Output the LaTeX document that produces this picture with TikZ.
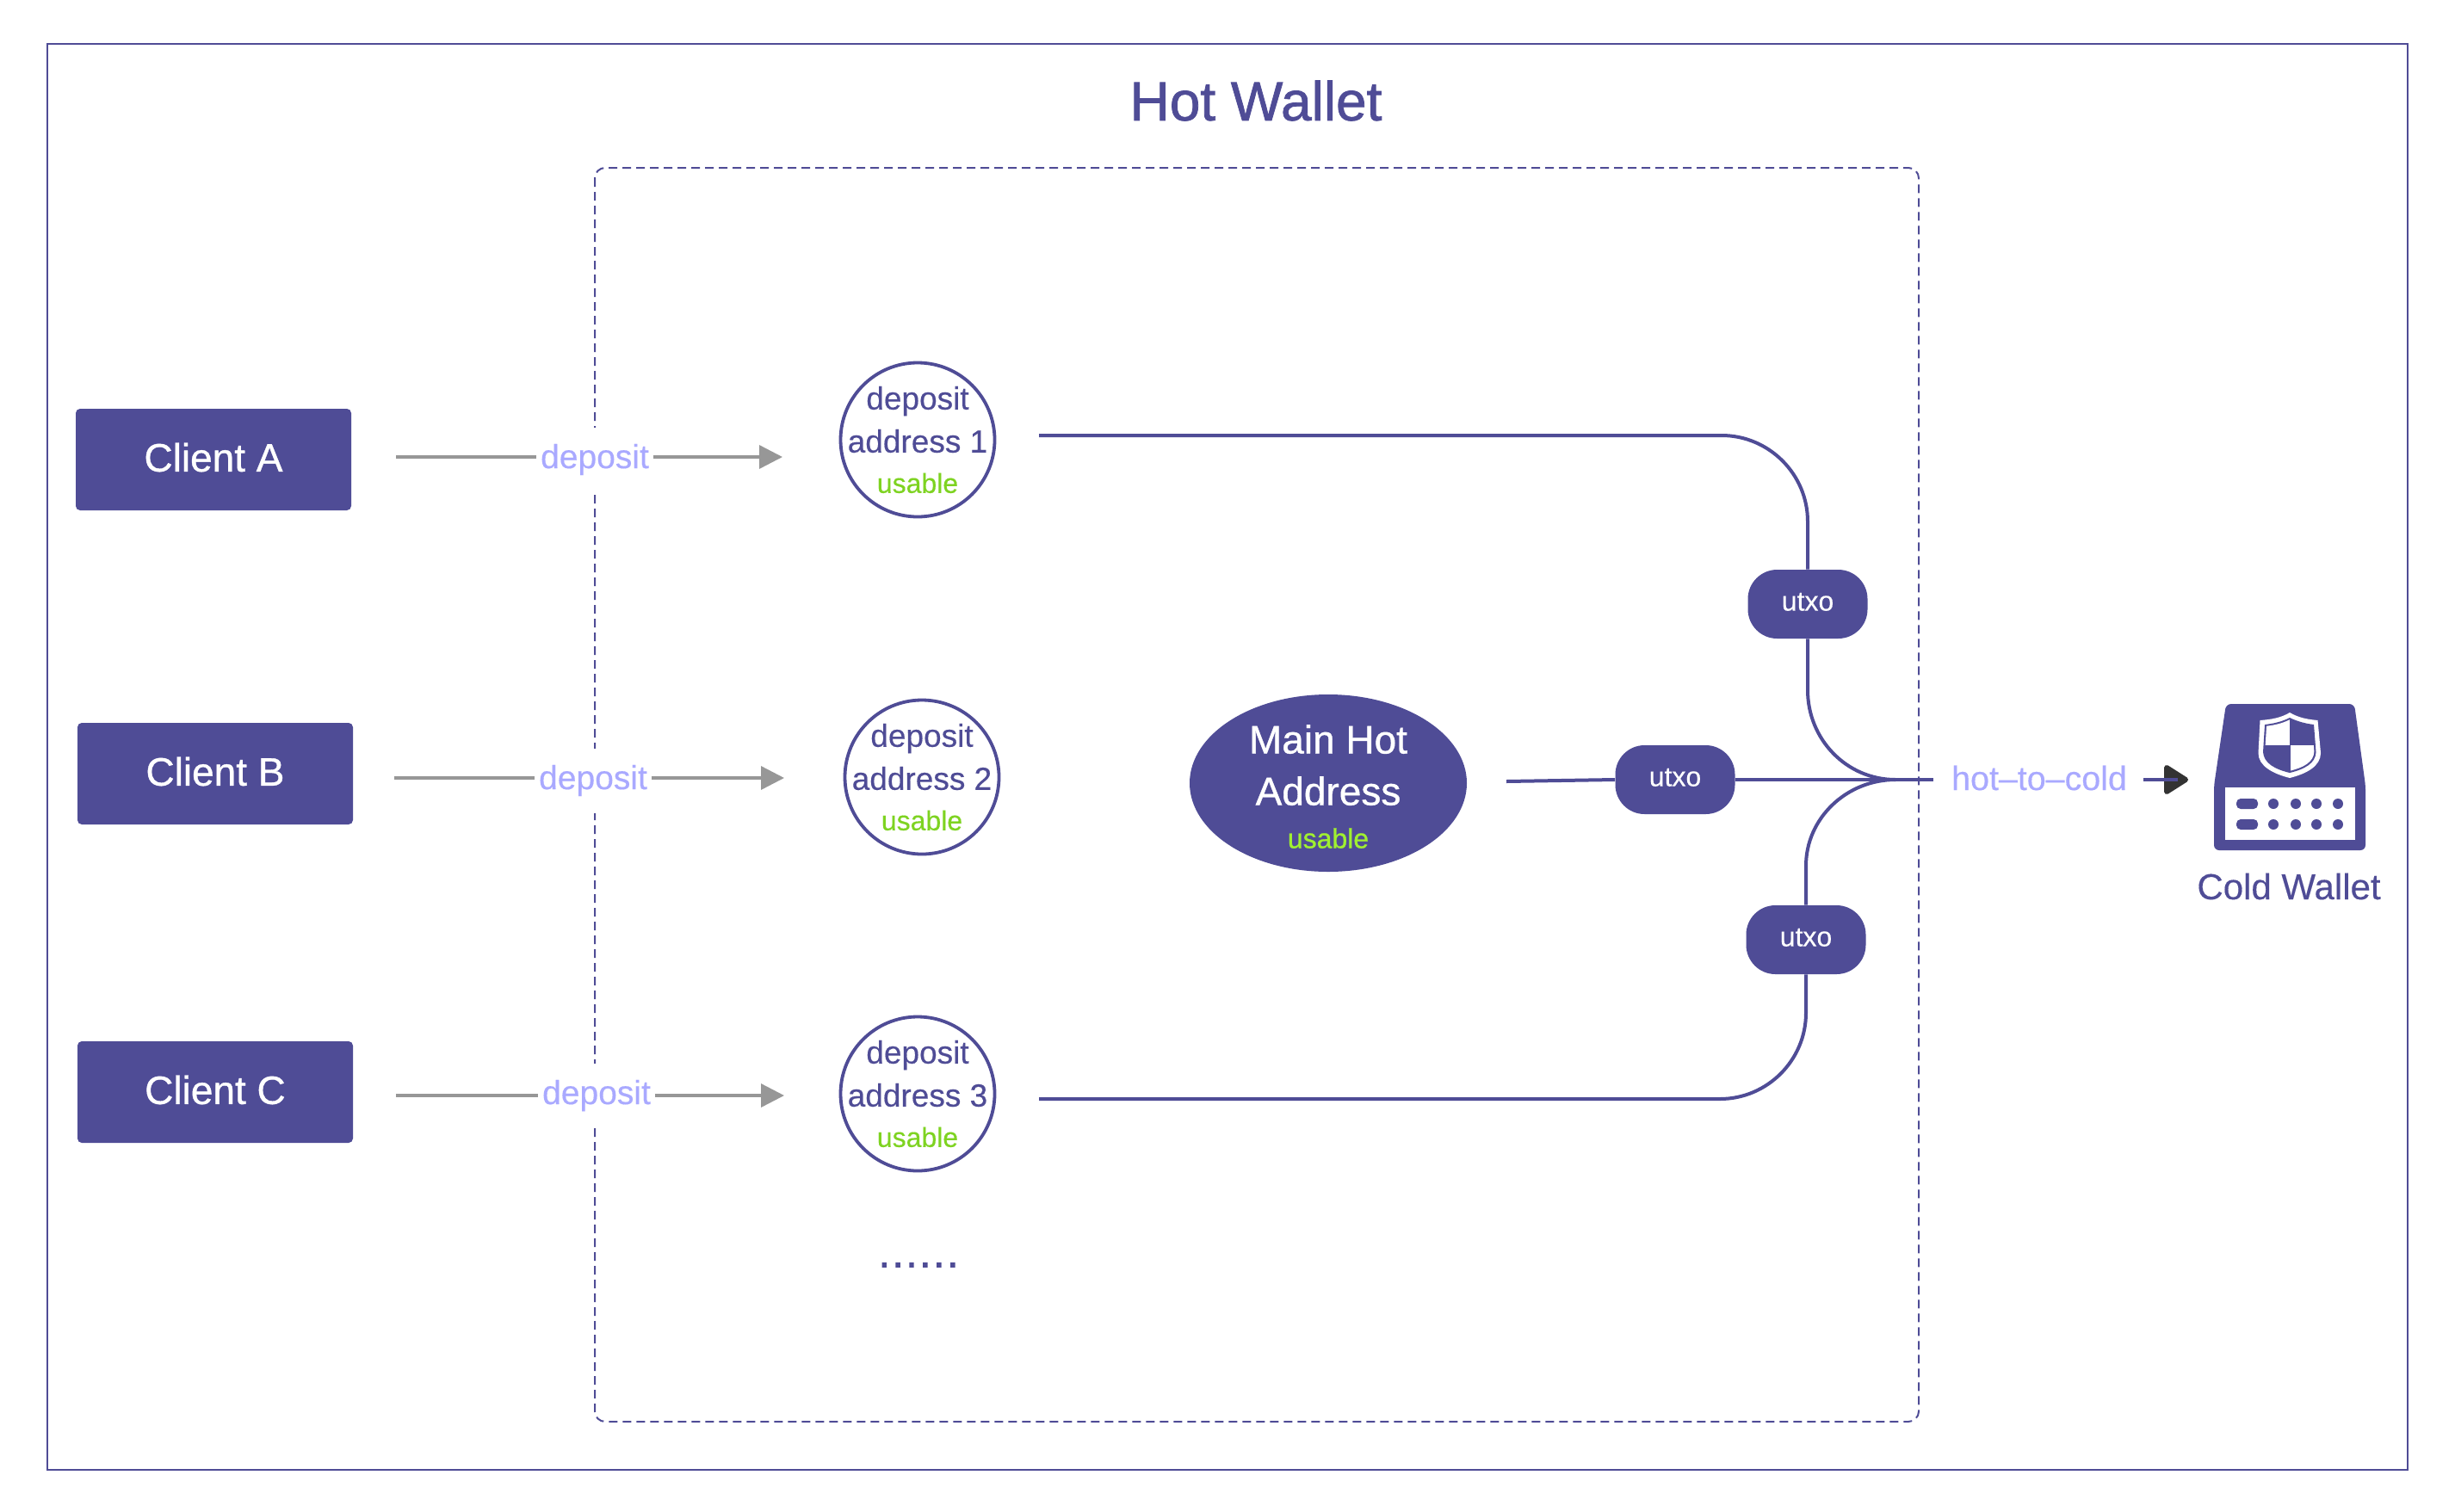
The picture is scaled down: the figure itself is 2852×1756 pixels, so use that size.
\documentclass[tikz,border=0pt]{standalone}
\usepackage{fontspec}
\setmainfont[FakeBold=0.3]{Liberation Sans}
\newfontfamily\titlefont[FakeBold=1.2]{Liberation Sans}
\newfontfamily\medfont[FakeBold=0.8]{Liberation Sans}
\newfontfamily\spaced[LetterSpace=12,FakeBold=4]{Liberation Sans}
\usetikzlibrary{arrows.meta,shapes.geometric}
\definecolor{wpurple}{HTML}{4F4C96}
\definecolor{wlabel}{HTML}{A9A9FF}
\definecolor{wgray}{HTML}{979797}
\definecolor{wgreen}{HTML}{7ED321}
\definecolor{wlime}{HTML}{A0F030}
\definecolor{wdark}{HTML}{333333}
\newcommand{\pxfont}[2]{\fontsize{#1}{#2}\selectfont}
\newcommand{\innershield}{(2662,834) .. controls (2672,839) and (2682,841) .. (2690,842) -- (2692.5,874) .. controls (2692,887) and (2679,894) .. (2662,898) .. controls (2645,894) and (2632,887) .. (2631,874) -- (2633,842) .. controls (2642,841) and (2652,839) .. (2662,834) -- cycle}
\tikzset{
  x=0.5pt,y=-0.5pt,
  frame/.style={draw=wpurple,line width=1pt},
  dashframe/.style={draw=wpurple,line width=1pt,dash pattern=on 5pt off 3pt,rounded corners=6pt},
  client/.style={fill=wpurple,text=white,rounded corners=2.5pt,minimum width=160pt,minimum height=59pt,inner sep=0pt,font=\medfont\pxfont{23}{28}},
  addr/.style={circle,draw=wpurple,line width=1.9pt,fill=white,minimum size=89.5pt,inner sep=0pt},
  addrtext/.style={inner sep=0pt,align=center,text=wpurple,font=\pxfont{18.5}{25}},
  mainaddr/.style={ellipse,fill=wpurple,minimum width=161pt,minimum height=103pt,inner sep=0pt},
  maintext/.style={inner sep=0pt,align=center,text=white,font=\medfont\pxfont{23}{30}},
  pill/.style={fill=wpurple,text=white,rounded corners=17pt,minimum width=69.5pt,minimum height=40pt,inner sep=0pt,font=\pxfont{16}{20}},
  deplabel/.style={fill=white,text=wlabel,minimum width=67.5pt,minimum height=37.5pt,inner sep=0pt,font=\pxfont{19.5}{24}},
  deparrow/.style={draw=wgray,line width=1.7pt},
  deptip/.style={draw=wgray,line width=1.7pt,-{Triangle[length=13.5pt,width=13.5pt,fill=wgray]}},
  flow/.style={draw=wpurple,line width=2pt},
}
\begin{document}
\begin{tikzpicture}
\useasboundingbox (0,0) rectangle (2852,1756);
\fill[white] (0,0) rectangle (2852,1756);
\draw[frame] (55,51) rectangle (2797,1708);
\draw[dashframe] (691,195) rectangle (2229,1652);
\node[text=wpurple,font={\titlefont\pxfont{32}{36}}] (title) at (1459,117) {Hot Wallet};

% clients
\node[client] (clientA) at (248,534) {\raisebox{2.8pt}{Client A}};
\node[client] (clientB) at (250,899) {\raisebox{2.8pt}{Client B}};
\node[client] (clientC) at (250,1269) {\raisebox{2.8pt}{Client C}};

% deposit addresses
\node[addr] (addr1) at (1066,511) {};
\node[addr] (addr2) at (1071,903) {};
\node[addr] (addr3) at (1066,1271) {};
\node[addrtext] (addr1t) at (addr1) {deposit\\address 1\\[-1.5pt]{\color{wgreen}\pxfont{16}{20}usable}};
\node[addrtext] (addr2t) at (addr2) {deposit\\address 2\\[-1.5pt]{\color{wgreen}\pxfont{16}{20}usable}};
\node[addrtext] (addr3t) at (addr3) {deposit\\address 3\\[-1.5pt]{\color{wgreen}\pxfont{16}{20}usable}};
\node[text=wpurple,font={\spaced\pxfont{20}{20}}] (dots) at (1067,1470) {......};

% deposit connectors
\coordinate (sA) at (460,531);
\coordinate (sB) at (458,904);
\coordinate (sC) at (460,1273);
\coordinate (eA) at (909,531);
\coordinate (eB) at (911,904);
\coordinate (eC) at (911,1273);
\node[deplabel] (depA) at (691,534) {deposit};
\node[deplabel] (depB) at (689,907) {deposit};
\node[deplabel] (depC) at (693,1273) {deposit};
\draw[deparrow] (sA) -- (sA -| depA.west);
\draw[deptip] (eA -| depA.east) -- (eA);
\draw[deparrow] (sB) -- (sB -| depB.west);
\draw[deptip] (eB -| depB.east) -- (eB);
\draw[deparrow] (sC) -- (sC -| depC.west);
\draw[deptip] (eC -| depC.east) -- (eC);

% main hot address and utxo pills
\node[mainaddr] (main) at (1543,910) {};
\node[maintext] (maint) at (1543,914) {Main Hot\\Address\\[-5pt]{\color{wlime}\pxfont{16}{20}usable}};
\node[pill] (u1) at (2100,702) {\raisebox{2.8pt}{utxo}};
\node[pill] (u2) at (1946,906) {\raisebox{2.8pt}{utxo}};
\node[pill] (u3) at (2098,1092) {\raisebox{2.8pt}{utxo}};

% flows
\coordinate (s1) at (1207,506);
\coordinate (s2) at (1750,908);
\coordinate (s3) at (1207,1277);
\coordinate (j) at (2202,906);
\coordinate (jend) at (2246,906);
\draw[flow] (s1) -- (2000,506) .. controls (2055,506) and (2100,551) .. (2100,606) -- (u1.north);
\draw[flow] (u1.south) -- (2100,802) .. controls (2100,859) and (2145,906) .. (j);
\draw[flow] (s2) -- (u2.west);
\draw[flow] (u2.east) -- (j);
\draw[flow] (j) -- (jend);
\draw[flow] (u3.north) -- (2098,1006) .. controls (2098,951) and (2145,906) .. (j);
\draw[flow] (u3.south) -- (2098,1177) .. controls (2098,1232) and (2053,1277) .. (1998,1277) -- (s3);

\node[text=wlabel,font=\pxfont{19.7}{24}] (h2c) at (2369,904) {hot–to–cold};

% arrow to cold wallet
\coordinate (c1) at (2490,906);
\coordinate (c2) at (2530,906);
\draw[wdark,fill=wdark,line width=3pt,line join=round] (2517,892) -- (2539,906) -- (2517,920) -- cycle;
\draw[flow] (c1) -- (c2);

% cold wallet icon
\fill[wpurple,rounded corners=3pt] (2586,818) -- (2735,818) -- (2748,913) -- (2748,988) -- (2572,988) -- (2572,913) -- cycle;
\fill[white] (2584.5,915) rectangle (2736,976);
\foreach \yy in {934,958}{
  \fill[wpurple,rounded corners=2.5pt] (2598,\yy-6) rectangle (2623,\yy+6);
  \foreach \xx in {2641,2667,2691,2716}{\fill[wpurple] (\xx,\yy) circle (3pt);}
}
% shield
\begin{scope}[shift={(-2,0)}]
\fill[white] (2662,828) .. controls (2672,834) and (2683,836) .. (2694.5,837) -- (2698,875) .. controls (2698,890) and (2682,899) .. (2662,904) .. controls (2642,899) and (2625.5,890) .. (2625.5,875) -- (2627.5,837) .. controls (2641,836) and (2652,834) .. (2662,828) -- cycle;
\fill[wpurple] \innershield;
\begin{scope}[shift={(2662,866)},scale=0.93,shift={(-2662,-866)}]
\clip \innershield;
\fill[white] (2625,828) rectangle (2661.5,866);
\fill[white] (2663,866) rectangle (2700,904);
\end{scope}
\end{scope}
\node[text=wpurple,font=\pxfont{21}{26},anchor=base] (cold) at (2659,1045) {Cold Wallet};
\end{tikzpicture}
\end{document}
